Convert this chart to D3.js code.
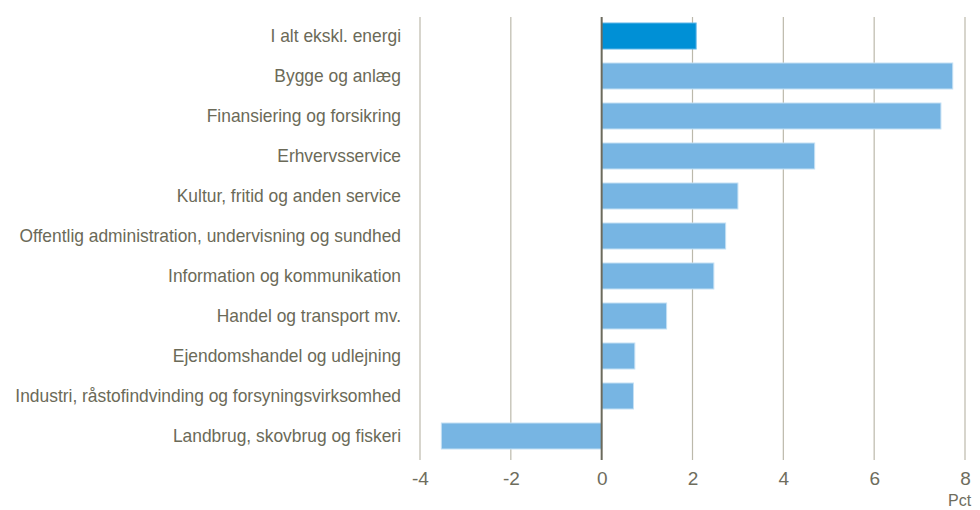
<!DOCTYPE html>
<meta charset="utf-8">
<html>
<head>
<script src="https://d3js.org/d3.v7.min.js"></script>
<style>
  body { margin: 0; background: #fff; }
  text { font-family: "Liberation Sans Narrow", "Arial Narrow", "Liberation Sans", sans-serif; }
</style>
</head>
<body>
<div id="chart"></div>
<script>
// sectors, top to bottom
var sectors = [
  "I alt ekskl. energi ",
  "Bygge og anlæg",
  "Finansiering og forsikring",
  "Erhvervsservice",
  "Kultur, fritid og anden service",
  "Offentlig administration, undervisning og sundhed",
  "Information og kommunikation",
  "Handel og transport mv.",
  "Ejendomshandel og udlejning",
  "Industri, råstofindvinding og forsyningsvirksomhed",
  "Landbrug, skovbrug og fiskeri"
];
var values = [2.08, 7.73, 7.47, 4.69, 3.0, 2.73, 2.47, 1.43, 0.73, 0.7, -3.53];
var xTicks = [-4, -2, 0, 2, 4, 6, 8];

var width = 980, height = 510;
var svg = d3.select("#chart").append("svg")
  .attr("width", width).attr("height", height);

var x = d3.scaleLinear().domain([-4, 8]).range([420, 965]);
var y = d3.scaleBand().domain(sectors).range([16, 456]).paddingInner(0.35).paddingOuter(0.175);

// gridlines
svg.append("g").selectAll("line")
  .data(xTicks.filter(d => d !== 0))
  .join("line")
  .attr("x1", d => x(d)).attr("x2", d => x(d))
  .attr("y1", 17).attr("y2", 460)
  .attr("stroke", "#bcb9ab").attr("stroke-width", 1.2);

// bars
svg.append("g").selectAll("rect")
  .data(sectors)
  .join("rect")
  .attr("x", (d, i) => x(Math.min(0, values[i])))
  .attr("y", d => y(d))
  .attr("width", (d, i) => Math.abs(x(values[i]) - x(0)))
  .attr("height", y.bandwidth())
  .attr("fill", (d, i) => i === 0 ? "#0090d6" : "#77b5e3")
  .attr("stroke", (d, i) => i === 0 ? "#5fb6e8" : "#c4e0f4")
  .attr("stroke-width", 1);

// zero line
svg.append("line")
  .attr("x1", x(0)).attr("x2", x(0))
  .attr("y1", 17).attr("y2", 460)
  .attr("stroke", "#6b6a5c").attr("stroke-width", 2);

// category labels (squeezed a little to mimic the narrow font)
svg.append("g")
  .attr("transform", "translate(401,0) scale(0.967,1)")
  .selectAll("text")
  .data(sectors)
  .join("text")
  .attr("x", 0)
  .attr("y", d => y(d) + y.bandwidth() / 2)
  .attr("dy", "0.35em")
  .attr("text-anchor", "end")
  .attr("font-size", 18)
  .attr("fill", "#6b6a58")
  .text(d => d);

// x axis
var xAxis = d3.axisBottom(x).tickValues(xTicks).tickSize(0).tickPadding(0)
  .tickFormat(d => String(d));
svg.append("g")
  .attr("transform", "translate(0,469)")
  .call(xAxis)
  .call(g => g.select(".domain").remove())
  .call(g => g.selectAll("text")
    .attr("font-size", 19)
    .attr("fill", "#6e6d5d")
    .attr("dy", "0.85em"));

svg.append("text")
  .attr("x", 948).attr("y", 506)
  .attr("font-size", 16)
  .attr("fill", "#6e6d5d")
  .text("Pct");
</script>
</body>
</html>
